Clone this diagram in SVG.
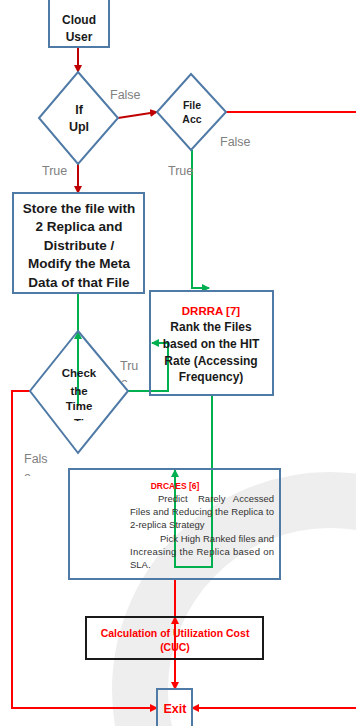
<svg xmlns="http://www.w3.org/2000/svg" width="356" height="726" viewBox="0 0 356 726">
<defs>
<style>
.box{fill:none;stroke:#4f7aa6;stroke-width:2}
.t{font-family:"Liberation Sans",Arial,sans-serif;font-weight:bold;fill:#1a1a1a;text-anchor:middle}
.lbl{font-family:"Liberation Sans",Arial,sans-serif;font-size:12.5px;fill:#808080}
.red{fill:#ff0000}
.small{font-family:"Liberation Sans",Arial,sans-serif;font-size:9.5px;fill:#333}
.dr{fill:none;stroke:#c00000;stroke-width:2}
.r{fill:none;stroke:#ff0000;stroke-width:2}
.g{fill:none;stroke:#00b050;stroke-width:2}
</style>
<marker id="adr" markerWidth="8" markerHeight="8" refX="7" refY="4" orient="auto" markerUnits="userSpaceOnUse"><path d="M0,0 L8,4 L0,8 Z" fill="#c00000"/></marker>
<marker id="ar" markerWidth="8" markerHeight="8" refX="7" refY="4" orient="auto" markerUnits="userSpaceOnUse"><path d="M0,0 L8,4 L0,8 Z" fill="#ff0000"/></marker>
<marker id="ag" markerWidth="8" markerHeight="8" refX="7" refY="4" orient="auto" markerUnits="userSpaceOnUse"><path d="M0,0 L8,4 L0,8 Z" fill="#00b050"/></marker>
<clipPath id="clipT"><rect x="0" y="0" width="356" height="421"/></clipPath>
<clipPath id="clipE1"><rect x="0" y="0" width="356" height="382"/></clipPath>
<clipPath id="clipE2"><rect x="0" y="0" width="356" height="476"/></clipPath>
</defs>
<rect width="356" height="726" fill="#ffffff"/>
<g id="watermark">
<circle cx="330" cy="690" r="190" fill="none" stroke="#eeeeee" stroke-width="56"/>
</g>
<g id="connectors">
<line class="dr" x1="78" y1="47" x2="78" y2="72" marker-end="url(#adr)"/>
<line class="dr" x1="118" y1="118" x2="157" y2="112" marker-end="url(#adr)"/>
<line class="dr" x1="78" y1="164" x2="78" y2="193" marker-end="url(#adr)"/>
<line class="r" x1="226" y1="112" x2="356" y2="112"/>
<polyline class="g" points="192,150 192,288 209,288" marker-end="url(#ag)"/>
<line class="g" x1="78" y1="293" x2="78" y2="406"/>
<line class="g" x1="78" y1="345" x2="78" y2="332" marker-end="url(#ag)"/>
<polyline class="g" points="128,391 168,391 168,343 152,343" marker-end="url(#ag)"/>
<polyline class="g" points="212,395 212,567 175,567 175,470" marker-end="url(#ag)"/>
<polyline class="r" points="30,391 12,391 12,708 157,708" marker-end="url(#ar)"/>
<line class="r" x1="356" y1="708" x2="192" y2="708" marker-end="url(#ar)"/>
<line class="r" x1="175" y1="579" x2="175" y2="689" marker-end="url(#ar)"/>
<line class="r" x1="175" y1="640" x2="175" y2="617" marker-end="url(#ar)"/>
</g>
<g id="cloud-user">
<rect class="box" x="49" y="-10" width="60" height="57"/>
<text class="t" x="79" y="24" font-size="12">Cloud</text>
<text class="t" x="79" y="41" font-size="12">User</text>
</g>
<g id="if-upl">
<polygon class="box" points="78,72 118,118 78,164 39,118"/>
<text class="t" x="79" y="114" font-size="12.5">If</text>
<text class="t" x="79" y="131" font-size="12.5">Upl</text>
</g>
<g id="file-acc">
<polygon class="box" points="191,74 226,112 191,150 157,112"/>
<text class="t" x="192" y="109" font-size="10.5">File</text>
<text class="t" x="192" y="123" font-size="10.5">Acc</text>
</g>
<g id="labels">
<text class="lbl" x="110" y="99">False</text>
<text class="lbl" x="220" y="146">False</text>
<text class="lbl" x="42" y="175">True</text>
<text class="lbl" x="168" y="175">True</text>
<text class="lbl" x="120" y="370">Tru</text>
<text class="lbl" x="121" y="387" clip-path="url(#clipE1)">e</text>
<text class="lbl" x="24" y="463">Fals</text>
<text class="lbl" x="24" y="481" clip-path="url(#clipE2)">e</text>
</g>
<g id="store">
<rect class="box" x="13" y="193" width="131" height="100"/>
<text class="t" x="79" y="213" font-size="13.5">Store the file with</text>
<text class="t" x="79" y="231" font-size="13.5">2 Replica and</text>
<text class="t" x="79" y="250" font-size="13.5">Distribute /</text>
<text class="t" x="79" y="268" font-size="13.5">Modify the Meta</text>
<text class="t" x="79" y="287" font-size="13.5">Data of that File</text>
</g>
<g id="check-time">
<polygon class="box" points="78,331 128,391 78,453 30,391"/>
<text class="t" x="79" y="377" font-size="11.5">Check</text>
<text class="t" x="79" y="395" font-size="11.5">the</text>
<text class="t" x="79" y="410" font-size="11.5">Time</text>
<text class="t" x="79" y="427" font-size="11.5" clip-path="url(#clipT)">Ti</text>
</g>
<g id="drrra">
<rect class="box" x="150" y="291" width="123" height="104"/>
<text class="t red" x="211" y="315" font-size="11.5">DRRRA [7]</text>
<text class="t" x="211" y="331" font-size="12">Rank the Files</text>
<text class="t" x="211" y="348" font-size="12">based on the HIT</text>
<text class="t" x="211" y="365" font-size="12">Rate (Accessing</text>
<text class="t" x="211" y="381" font-size="12">Frequency)</text>
</g>
<g id="drcaes">
<rect class="box" x="69" y="469" width="211" height="110"/>
<text class="t red" x="175" y="489" font-size="8.5">DRCAES [6]</text>
<text class="small" x="158" y="502">Predict</text>
<text class="small" x="198" y="502">Rarely</text>
<text class="small" x="274" y="502" text-anchor="end">Accessed</text>
<text class="small" x="130" y="515" textLength="144" lengthAdjust="spacing">Files and Reducing the Replica to</text>
<text class="small" x="130" y="528">2-replica Strategy</text>
<text class="small" x="160" y="541.5" textLength="114" lengthAdjust="spacing">Pick High Ranked files and</text>
<text class="small" x="130" y="554.5" textLength="144" lengthAdjust="spacing">Increasing the Replica based on</text>
<text class="small" x="130" y="567.5">SLA.</text>
</g>
<g id="cuc">
<rect x="86" y="617" width="177" height="42" fill="none" stroke="#1a1a1a" stroke-width="2"/>
<text class="t red" x="175" y="637" font-size="10.5">Calculation of Utilization Cost</text>
<text class="t red" x="175" y="651" font-size="10.5">(CUC)</text>
</g>
<g id="exit">
<rect class="box" x="157" y="689" width="35" height="45"/>
<text class="t red" x="175" y="713" font-size="12.5">Exit</text>
</g>
</svg>
